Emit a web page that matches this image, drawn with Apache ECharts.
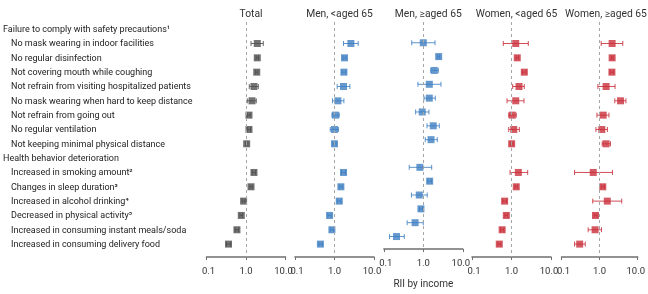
<!DOCTYPE html>
<html>
<head>
    <meta charset="utf-8">
    <title>RII by income</title>
    <style>
        html, body { margin: 0; padding: 0; background: #fff; }
    </style>
</head>
<body>
<div id="rii" style="width: 648px;height:294px;"></div>
<script type="text/javascript" src="https://cdn.jsdelivr.net/npm/echarts@6/dist/echarts.min.js"></script>

<script type="text/javascript">
    // row labels, top to bottom (index 0 and 9 are group headers)
    var rowLabels = [
        'Failure to comply with safety precautions\u00b9',
        'No mask wearing in indoor facilities',
        'No regular disinfection',
        'Not covering mouth while coughing',
        'Not refrain from visiting hospitalized patients',
        'No mask wearing when hard to keep distance',
        'Not refrain from going out',
        'No regular ventilation',
        'Not keeping minimal physical distance',
        'Health behavior deterioration',
        'Increased in smoking amount\u00b2',
        'Changes in sleep duration\u00b3',
        'Increased in alcohol drinking\u2074',
        'Decreased in physical activity\u2075',
        'Increased in consuming instant meals/soda',
        'Increased in consuming delivery food'
    ];
    var headerRows = [0, 9];

    var panelTitles = ['Total', 'Men, <aged 65', 'Men, \u2265aged 65', 'Women, <aged 65', 'Women, \u2265aged 65'];
    var tickValues = [0.1, 1, 10];

    // RII estimates and 95% CI per panel (null on header rows)
    var totalEst = [null, 1.93, 1.93, 1.87, 1.59, 1.42, 1.19, 1.19, 1.04, null, 1.59, 1.34, 0.87, 0.76, 0.59, 0.36];
    var totalLo  = [null, 1.34, 1.80, 1.75, 1.21, 1.08, 1.10, 1.10, 0.97, null, 1.45, 1.25, 0.80, 0.70, 0.53, 0.32];
    var totalHi  = [null, 2.74, 2.07, 2.00, 2.05, 1.82, 1.29, 1.30, 1.12, null, 1.75, 1.44, 0.95, 0.82, 0.65, 0.41];

    var menYEst = [null, 2.60, 1.79, 1.73, 1.69, 1.22, 1.06, 1.00, 1.00, null, 1.69, 1.45, 1.32, 0.75, 0.86, 0.44];
    var menYLo  = [null, 1.69, 1.65, 1.55, 1.17, 0.89, 0.86, 0.78, 0.90, null, 1.50, 1.33, 1.18, 0.68, 0.78, 0.40];
    var menYHi  = [null, 3.98, 1.95, 1.93, 2.45, 1.73, 1.32, 1.26, 1.10, null, 1.90, 1.58, 1.47, 0.82, 0.95, 0.49];

    var menOEst = [null, 1.00, 2.45, 1.90, 1.42, 1.42, 0.94, 1.79, 1.57, null, 0.82, 1.45, 0.79, 0.87, 0.62, 0.21];
    var menOLo  = [null, 0.51, 2.30, 1.54, 0.73, 1.04, 0.64, 1.24, 1.12, null, 0.44, 1.30, 0.50, 0.80, 0.39, 0.14];
    var menOHi  = [null, 1.98, 2.60, 2.40, 2.80, 2.01, 1.39, 2.54, 2.26, null, 1.63, 1.60, 1.26, 0.95, 1.00, 0.33];

    var womenYEst = [null, 1.28, 1.40, 2.11, 1.55, 1.28, 1.05, 1.14, 1.01, null, 1.49, 1.32, 0.67, 0.74, 0.58, 0.49];
    var womenYLo  = [null, 0.62, 1.30, 1.90, 1.07, 0.77, 0.85, 0.85, 0.92, null, 0.92, 1.22, 0.60, 0.68, 0.53, 0.45];
    var womenYHi  = [null, 2.66, 1.52, 2.35, 2.11, 2.07, 1.32, 1.58, 1.10, null, 2.57, 1.43, 0.75, 0.80, 0.64, 0.54];

    var womenOEst = [null, 2.13, 2.13, 2.10, 1.48, 3.54, 1.24, 1.14, 1.48, null, 0.68, 1.21, 1.59, 0.78, 0.76, 0.30];
    var womenOLo  = [null, 1.10, 2.00, 1.90, 0.90, 2.50, 0.85, 0.80, 1.17, null, 0.22, 1.10, 0.66, 0.72, 0.50, 0.22];
    var womenOHi  = [null, 4.05, 2.27, 2.32, 2.54, 4.90, 1.76, 1.60, 1.93, null, 2.17, 1.33, 3.80, 0.85, 1.12, 0.42];

    var panels = [
        { est: totalEst, lo: totalLo, hi: totalHi, color: '#4f4f4f' },
        { est: menYEst, lo: menYLo, hi: menYHi, color: '#3f80c2' },
        { est: menOEst, lo: menOLo, hi: menOHi, color: '#3f80c2' },
        { est: womenYEst, lo: womenYLo, hi: womenYHi, color: '#c92f3b' },
        { est: womenOEst, lo: womenOLo, hi: womenOHi, color: '#c92f3b' }
    ];

    // x position of RII = 1.0 in each panel, and half width of one panel (one decade)
    var centers = [246, 334.5, 423.3, 511.5, 601];
    var decade = 39.5;
    var fontFam = 'Roboto, sans-serif';

    function renderBar(params, api) {
        var row = api.value(2);
        var p1 = api.coord([api.value(0), row]);
        var p2 = api.coord([api.value(1), row]);
        var c = api.visual('color');
        var style = { stroke: c, lineWidth: 1, opacity: 0.85 };
        return {
            type: 'group',
            children: [
                { type: 'line', shape: { x1: p1[0], y1: p1[1], x2: p2[0], y2: p2[1] }, style: style },
                { type: 'line', shape: { x1: p1[0], y1: p1[1] - 2.5, x2: p1[0], y2: p1[1] + 2.5 }, style: style },
                { type: 'line', shape: { x1: p2[0], y1: p2[1] - 2.5, x2: p2[0], y2: p2[1] + 2.5 }, style: style }
            ]
        };
    }

    var dom = document.getElementById('rii');
    var myChart = echarts.init(dom);

    var tickText = { fontFamily: fontFam, fontSize: 9.5, color: '#333' };
    var grids = [], xAxes = [], yAxes = [], series = [], titles = [];
    panels.forEach(function (p, i) {
        grids.push({ left: centers[i] - decade, width: decade * 2, top: 22, height: 235 });
        xAxes.push({
            type: 'log', logBase: 10, gridIndex: i, min: tickValues[0], max: tickValues[2],
            name: i === 2 ? 'RII by income' : '',
            nameLocation: 'middle', nameGap: 30,
            nameTextStyle: { fontFamily: fontFam, fontSize: 10, color: '#333' },
            axisLine: { onZero: false, lineStyle: { color: '#6f6f6f', width: 1.5 } },
            axisTick: { length: 3, lineStyle: { color: '#6f6f6f' } },
            axisLabel: {
                margin: 10,
                formatter: function (v) {
                    var s = Number(v).toFixed(1);
                    if (v < 0.5) return '{l|' + s + '}';
                    if (v > 5) return '{r|' + s + '}';
                    return '{c|' + s + '}';
                },
                rich: {
                    l: echarts.util.extend({ padding: [0, 0, 0, 4] }, tickText),
                    r: echarts.util.extend({ padding: [0, 4, 0, 0] }, tickText),
                    c: tickText
                }
            },
            splitLine: { show: false }
        });
        yAxes.push({ type: 'value', gridIndex: i, min: -0.5, max: 15.9, inverse: true, show: false });
        titles.push({
            text: panelTitles[i], left: centers[i], top: 4, textAlign: 'center',
            textStyle: { fontFamily: fontFam, fontSize: 10.3, fontWeight: 'normal', color: '#333' }
        });

        var bars = [], pts = [];
        for (var r = 0; r < rowLabels.length; r++) {
            if (p.est[r] == null) continue;
            bars.push([p.lo[r], p.hi[r], r]);
            pts.push([p.est[r], r]);
        }
        series.push({
            type: 'custom', xAxisIndex: i, yAxisIndex: i,
            renderItem: renderBar, itemStyle: { color: p.color },
            encode: { x: [0, 1], y: 2 }, data: bars, silent: true, z: 2
        });
        series.push({
            type: 'scatter', xAxisIndex: i, yAxisIndex: i,
            symbol: 'rect', symbolSize: 7, itemStyle: { color: p.color },
            data: pts, silent: true, z: 3,
            markLine: {
                silent: true, symbol: 'none', label: { show: false },
                lineStyle: { type: [3, 3], color: '#a6a6a6', width: 1 },
                data: [{ xAxis: 1 }]
            }
        });
    });

    // label column
    grids.push({ left: 200, width: 1, top: 22.5, height: 229.3 });
    xAxes.push({ type: 'value', gridIndex: 5, min: 0, max: 1, show: false });
    yAxes.push({
        type: 'category', gridIndex: 5, data: rowLabels, inverse: true,
        axisLine: { show: false }, axisTick: { show: false },
        axisLabel: {
            interval: 0, align: 'left', margin: 197,
            formatter: function (v, idx) {
                return headerRows.indexOf(idx) >= 0 ? '{h|' + v + '}' : '{i|' + v + '}';
            },
            rich: {
                h: { fontFamily: fontFam, fontSize: 9, lineHeight: 12, color: '#222' },
                i: { fontFamily: fontFam, fontSize: 9, lineHeight: 12, color: '#222', padding: [0, 0, 0, 8] }
            }
        }
    });

    var option = {
        animation: false,
        title: titles,
        grid: grids,
        xAxis: xAxes,
        yAxis: yAxes,
        series: series
    };
    if (option && typeof option === "object") {
        myChart.setOption(option);
    }
</script>
</body>
</html>
